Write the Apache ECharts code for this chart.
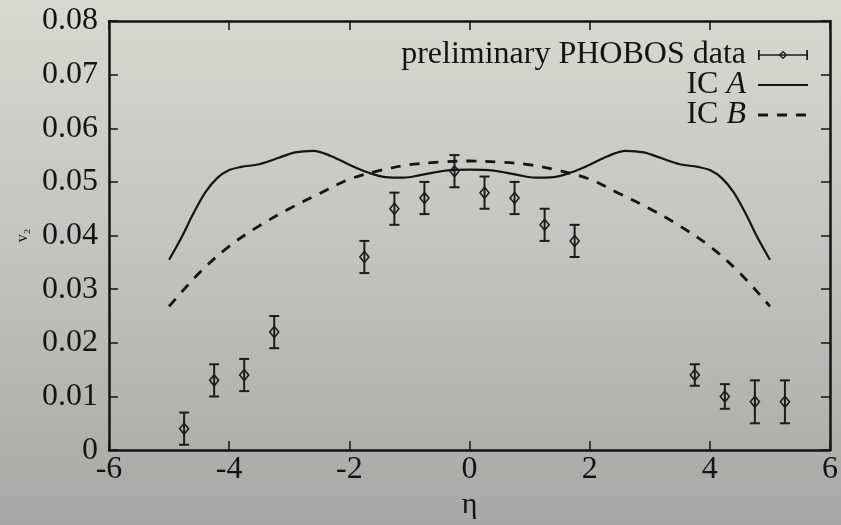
<!DOCTYPE html>
<html>
<head>
<meta charset="utf-8">
<script src="https://cdn.jsdelivr.net/npm/echarts@6/dist/echarts.min.js"></script>
<style>html,body{margin:0;padding:0;}#c{width:841px;height:525px;}</style>
</head>
<body>
<div id="c"></div>
<script>
// ---- data ----
const xTickLabels = ['-6', '-4', '-2', '0', '2', '4', '6'];
const yTickLabels = ['0', '0.01', '0.02', '0.03', '0.04', '0.05', '0.06', '0.07', '0.08'];

const phobosEta = [-4.75, -4.25, -3.75, -3.25, -1.75, -1.25, -0.75, -0.25, 0.25, 0.75, 1.25, 1.75, 3.75, 4.25, 4.75, 5.25];
const phobosV2  = [0.004, 0.013, 0.014, 0.022, 0.036, 0.045, 0.047, 0.052, 0.048, 0.047, 0.042, 0.039, 0.014, 0.010, 0.009, 0.009];
const phobosErr = [0.003, 0.003, 0.003, 0.003, 0.003, 0.003, 0.003, 0.003, 0.003, 0.003, 0.003, 0.003, 0.002, 0.0023, 0.004, 0.004];

const icAEta = [-5.0, -4.8, -4.6, -4.4, -4.2, -4.0, -3.8, -3.5, -3.2, -2.9, -2.6, -2.3, -2.0, -1.7, -1.4, -1.1, -0.8, -0.4, 0,
                0.4, 0.8, 1.1, 1.4, 1.7, 2.0, 2.3, 2.6, 2.9, 3.2, 3.5, 3.8, 4.0, 4.2, 4.4, 4.6, 4.8, 5.0];
const icAV2  = [0.0355, 0.0395, 0.0440, 0.0480, 0.0507, 0.0522, 0.0528, 0.0533, 0.0544, 0.0555, 0.0558, 0.0548, 0.0532, 0.0518, 0.0509, 0.0508, 0.0513, 0.0521, 0.0523,
                0.0521, 0.0513, 0.0508, 0.0509, 0.0518, 0.0532, 0.0548, 0.0558, 0.0555, 0.0544, 0.0533, 0.0528, 0.0522, 0.0507, 0.0480, 0.0440, 0.0395, 0.0355];

const icBEta = [-5.0, -4.5, -4.0, -3.5, -3.0, -2.5, -2.0, -1.5, -1.0, -0.5, 0, 0.5, 1.0, 1.5, 2.0, 2.5, 3.0, 3.5, 4.0, 4.5, 5.0];
const icBV2  = [0.0268, 0.0330, 0.0380, 0.0418, 0.0450, 0.0478, 0.0505, 0.0521, 0.0532, 0.0537, 0.0539, 0.0537, 0.0532, 0.0521, 0.0505, 0.0478, 0.0450, 0.0418, 0.0380, 0.0330, 0.0268];

const seriesNames = ['preliminary PHOBOS data', 'IC A', 'IC B'];

// ---- chart ----
const FONT = 'Liberation Serif';
const INK = '#141414';
const chart = echarts.init(document.getElementById('c'), null, { renderer: 'canvas' });

const phobosData = phobosEta.map((e, i) => [e, phobosV2[i], phobosErr[i]]);
const icAData = icAEta.map((e, i) => [e, icAV2[i]]);
const icBData = icBEta.map((e, i) => [e, icBV2[i]]);

const errIcon = 'path://M0,4.3L50,4.3L50,5.7L0,5.7Z M0,0L1.8,0L1.8,10L0,10Z M48.2,0L50,0L50,10L48.2,10Z ' +
  'M25,0.8L29.5,5L25,9.2L20.5,5Z M25,2.6L22.6,5L25,7.4L27.4,5Z';
const solidIcon = 'path://M0,3.9L50,3.9L50,6.1L0,6.1Z M0,0L0.01,0L0.01,10L0,10Z';
const dashIcon = 'path://M0,3.6L10,3.6L10,6.4L0,6.4Z M19,3.6L29,3.6L29,6.4L19,6.4Z M38,3.6L48,3.6L48,6.4L38,6.4Z M49.99,0L50,0L50,10L49.99,10Z';

function xLabel(v) { return xTickLabels[Math.round((v + 6) / 2)]; }
function yLabel(v) { return yTickLabels[Math.round(v / 0.01)]; }

const axisLine = { show: true, onZero: false, lineStyle: { color: INK, width: 2.5 } };
const tick = { show: true, inside: true, length: 9, lineStyle: { color: INK, width: 1.5 } };

chart.setOption({
  backgroundColor: new echarts.graphic.LinearGradient(0, 0, 0, 1, [
    { offset: 0, color: '#d8d9d2' },
    { offset: 0.5, color: '#c2c2c0' },
    { offset: 1, color: '#a7a7a7' }
  ]),
  animation: false,
  grid: { left: 109, right: 9, top: 21, bottom: 67, containLabel: false },
  legend: {
    orient: 'vertical',
    align: 'right',
    right: 28,
    top: 34,
    itemWidth: 50,
    itemHeight: 10,
    itemGap: -2,
    selectedMode: false,
    data: [
      { name: seriesNames[0], icon: errIcon },
      { name: seriesNames[1], icon: solidIcon },
      { name: seriesNames[2], icon: dashIcon }
    ],
    formatter: function (name) {
      if (name === 'IC A') return 'IC {i|A}';
      if (name === 'IC B') return 'IC {i|B}';
      return name;
    },
    textStyle: {
      fontFamily: FONT, fontSize: 32, color: INK, lineHeight: 30, padding: [0, 7, 0, 0],
      rich: { i: { fontFamily: FONT, fontSize: 32, fontStyle: 'italic', color: INK, lineHeight: 30 } }
    }
  },
  xAxis: [
    {
      type: 'value', min: -6, max: 6, interval: 2, position: 'bottom',
      name: 'η', nameLocation: 'middle', nameGap: 35,
      nameTextStyle: { fontFamily: FONT, fontSize: 30, color: INK },
      axisLine: axisLine, axisTick: tick, splitLine: { show: false },
      axisLabel: { formatter: xLabel, fontFamily: FONT, fontSize: 32, color: INK, margin: 3 }
    },
    {
      type: 'value', min: -6, max: 6, interval: 2, position: 'top',
      axisLine: axisLine, axisTick: tick, splitLine: { show: false },
      axisLabel: { show: false }
    }
  ],
  yAxis: [
    {
      type: 'value', min: 0, max: 0.08, interval: 0.01, position: 'left',
      name: 'v₂', nameLocation: 'middle', nameGap: 74, nameRotate: 90,
      nameTextStyle: { fontFamily: FONT, fontSize: 16, color: INK },
      axisLine: axisLine, axisTick: tick, splitLine: { show: false },
      axisLabel: { formatter: yLabel, fontFamily: FONT, fontSize: 32, color: INK, margin: 11 }
    },
    {
      type: 'value', min: 0, max: 0.08, interval: 0.01, position: 'right',
      axisLine: axisLine, axisTick: tick, splitLine: { show: false },
      axisLabel: { show: false }
    }
  ],
  series: [
    {
      name: seriesNames[0],
      type: 'custom',
      xAxisIndex: 0, yAxisIndex: 0,
      itemStyle: { color: '#1c1c1c' },
      data: phobosData,
      renderItem: function (params, api) {
        const x = api.value(0), y = api.value(1), e = api.value(2);
        const c = api.coord([x, y]);
        const t = api.coord([x, y + e]);
        const b = api.coord([x, y - e]);
        const hw = 5, dx = 4.5, dy = 5.5;
        const st = { stroke: '#1c1c1c', lineWidth: 2 };
        return {
          type: 'group',
          children: [
            { type: 'line', shape: { x1: c[0], y1: t[1], x2: c[0], y2: b[1] }, style: st },
            { type: 'line', shape: { x1: c[0] - hw, y1: t[1], x2: c[0] + hw, y2: t[1] }, style: st },
            { type: 'line', shape: { x1: c[0] - hw, y1: b[1], x2: c[0] + hw, y2: b[1] }, style: st },
            { type: 'polygon', shape: { points: [[c[0], c[1] - dy], [c[0] + dx, c[1]], [c[0], c[1] + dy], [c[0] - dx, c[1]]] },
              style: { fill: 'none', stroke: '#1c1c1c', lineWidth: 1.6 } }
          ]
        };
      }
    },
    {
      name: seriesNames[1],
      type: 'line',
      xAxisIndex: 0, yAxisIndex: 0,
      data: icAData,
      symbol: 'none', smooth: 0.35,
      lineStyle: { color: INK, width: 2.2, type: 'solid' },
      itemStyle: { color: INK }
    },
    {
      name: seriesNames[2],
      type: 'line',
      xAxisIndex: 0, yAxisIndex: 0,
      data: icBData,
      symbol: 'none', smooth: 0.35,
      lineStyle: { color: INK, width: 2.8, type: [10, 9] },
      itemStyle: { color: INK }
    }
  ]
});
</script>
</body>
</html>
